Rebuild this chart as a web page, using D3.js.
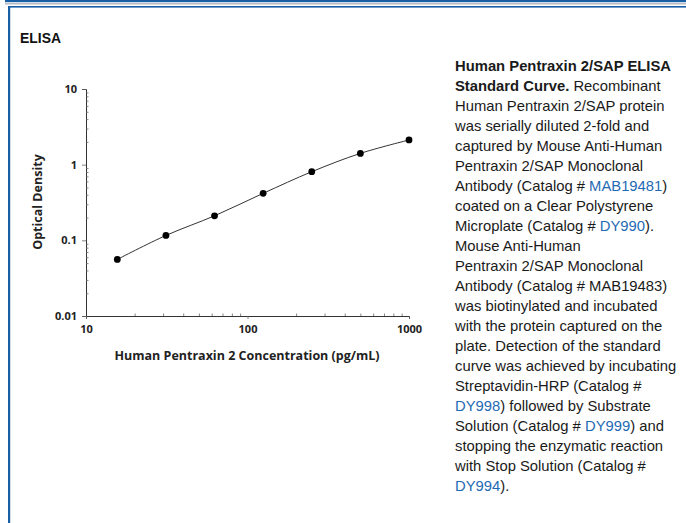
<!DOCTYPE html>
<html>
<head>
<meta charset="utf-8">
<script src="https://cdn.jsdelivr.net/npm/d3@7"></script>
<style>
  html, body { margin: 0; padding: 0; background: #fff; }
  svg { display: block; }
</style>
</head>
<body>
<svg id="chart" width="686" height="523"></svg>
<script>
// ---- data ----
const concentrations = [15.625, 31.25, 62.5, 125, 250, 500, 1000];
const odValues = [0.056, 0.116, 0.211, 0.418, 0.807, 1.41, 2.12];
const yTickValues = [0.01, 0.1, 1, 10];
const yTickLabels = ["0.01", "0.1", "1", "10"];
const xTickValues = [10, 100, 1000];
const xTickLabels = ["10", "100", "1000"];
const titleText = "ELISA";
const xAxisTitle = "Human Pentraxin 2 Concentration (pg/mL)";
const yAxisTitle = "Optical Density";
// caption lines: arrays of [text, style] with style b=bold, l=link, n=normal
const captionLines = [
  [["Human Pentraxin 2/SAP ELISA", "b"]],
  [["Standard Curve.", "b"], [" Recombinant", "n"]],
  [["Human Pentraxin 2/SAP protein", "n"]],
  [["was serially diluted 2-fold and", "n"]],
  [["captured by Mouse Anti-Human", "n"]],
  [["Pentraxin 2/SAP Monoclonal", "n"]],
  [["Antibody (Catalog # ", "n"], ["MAB19481", "l"], [")", "n"]],
  [["coated on a Clear Polystyrene", "n"]],
  [["Microplate (Catalog # ", "n"], ["DY990", "l"], [").", "n"]],
  [["Mouse Anti-Human", "n"]],
  [["Pentraxin 2/SAP Monoclonal", "n"]],
  [["Antibody (Catalog # MAB19483)", "n"]],
  [["was biotinylated and incubated", "n"]],
  [["with the protein captured on the", "n"]],
  [["plate. Detection of the standard", "n"]],
  [["curve was achieved by incubating", "n"]],
  [["Streptavidin-HRP (Catalog #", "n"]],
  [["DY998", "l"], [") followed by Substrate", "n"]],
  [["Solution (Catalog # ", "n"], ["DY999", "l"], [") and", "n"]],
  [["stopping the enzymatic reaction", "n"]],
  [["with Stop Solution (Catalog #", "n"]],
  [["DY994", "l"], [").", "n"]]
];

// ---- drawing ----
const svg = d3.select("#chart");
const blue = "#1a5fa6";

// frame lines
svg.append("rect").attr("x", 5).attr("y", 0).attr("width", 681).attr("height", 2.2).attr("fill", blue);
svg.append("rect").attr("x", 5).attr("y", 3).attr("width", 681).attr("height", 1.5).attr("fill", "#b8bcc2");
svg.append("rect").attr("x", 8).attr("y", 6).attr("width", 678).attr("height", 1.6).attr("fill", blue);
svg.append("rect").attr("x", 8).attr("y", 6).attr("width", 2.2).attr("height", 517).attr("fill", blue);

svg.append("text").attr("x", 20).attr("y", 43)
  .attr("font-family", "'Liberation Sans', Arial, sans-serif")
  .attr("font-weight", "bold").attr("font-size", 15.5).attr("fill", "#111")
  .attr("textLength", 41).attr("lengthAdjust", "spacingAndGlyphs")
  .text(titleText);

const x = d3.scaleLog().domain([10, 1000]).range([86, 409]);
const y = d3.scaleLog().domain([0.01, 10]).range([316, 89]);

const axisColor = "#333";
const tickFont = "'Open Sans', 'DejaVu Sans', sans-serif";

function minorTicks(lo, hi) {
  const out = [];
  for (let d = lo; d < hi; d *= 10) for (let k = 2; k <= 9; k++) out.push(d * k);
  return out;
}

// y axis
const gy = svg.append("g").attr("transform", "translate(86,0)");
gy.call(d3.axisLeft(y).tickValues(yTickValues).tickSize(4)
  .tickFormat((d, i) => yTickLabels[i]).tickPadding(5));
const gyMinor = svg.append("g").attr("transform", "translate(86,0)");
gyMinor.call(d3.axisRight(y).tickValues(minorTicks(0.01, 10)).tickSize(2.5).tickFormat(""));
gyMinor.select(".domain").remove();

// x axis
const gx = svg.append("g").attr("transform", "translate(0,316)");
gx.call(d3.axisBottom(x).tickValues(xTickValues).tickSize(3)
  .tickFormat((d, i) => xTickLabels[i]).tickPadding(6));
const gxMinor = svg.append("g").attr("transform", "translate(0,316)");
gxMinor.call(d3.axisTop(x).tickValues(minorTicks(10, 1000)).tickSize(2.5).tickFormat(""));
gxMinor.select(".domain").remove();

svg.selectAll(".domain").attr("stroke", axisColor).attr("stroke-width", 1);
svg.selectAll(".tick line").attr("stroke", "#666").attr("stroke-width", 0.8);
svg.selectAll(".tick text").attr("font-family", tickFont).attr("font-weight", 700)
  .attr("font-size", 11).attr("fill", "#222");

// axis titles
svg.append("text").attr("x", 247).attr("y", 360).attr("text-anchor", "middle")
  .attr("font-family", tickFont).attr("font-weight", 700).attr("font-size", 12.5)
  .attr("fill", "#222").text(xAxisTitle);
svg.append("text").attr("transform", "translate(42,202) rotate(-90)").attr("text-anchor", "middle")
  .attr("font-family", tickFont).attr("font-weight", 700).attr("font-size", 12.5)
  .attr("fill", "#222").text(yAxisTitle);

// curve
const pts = concentrations.map((c, i) => [c, odValues[i]]);
const line = d3.line().x(d => x(d[0])).y(d => y(d[1])).curve(d3.curveCatmullRom.alpha(0.5));
svg.append("path").datum(pts).attr("d", line).attr("fill", "none")
  .attr("stroke", "#333").attr("stroke-width", 1);
svg.selectAll("circle.pt").data(pts).enter().append("circle").attr("class", "pt")
  .attr("cx", d => x(d[0])).attr("cy", d => y(d[1])).attr("r", 3.4).attr("fill", "#000");

// caption
const cap = svg.append("text").attr("font-family", "'Liberation Sans', Arial, sans-serif")
  .attr("font-size", 14.8).attr("fill", "#1a1a1a");
captionLines.forEach((segs, i) => {
  const ln = cap.append("tspan").attr("x", 455).attr("y", 71 + i * 20);
  segs.forEach(([t, s]) => {
    const ts = ln.append("tspan").text(t);
    if (s === "b") ts.attr("font-weight", "bold");
    if (s === "l") ts.attr("fill", "#1f6ab4");
  });
});
</script>
</body>
</html>
